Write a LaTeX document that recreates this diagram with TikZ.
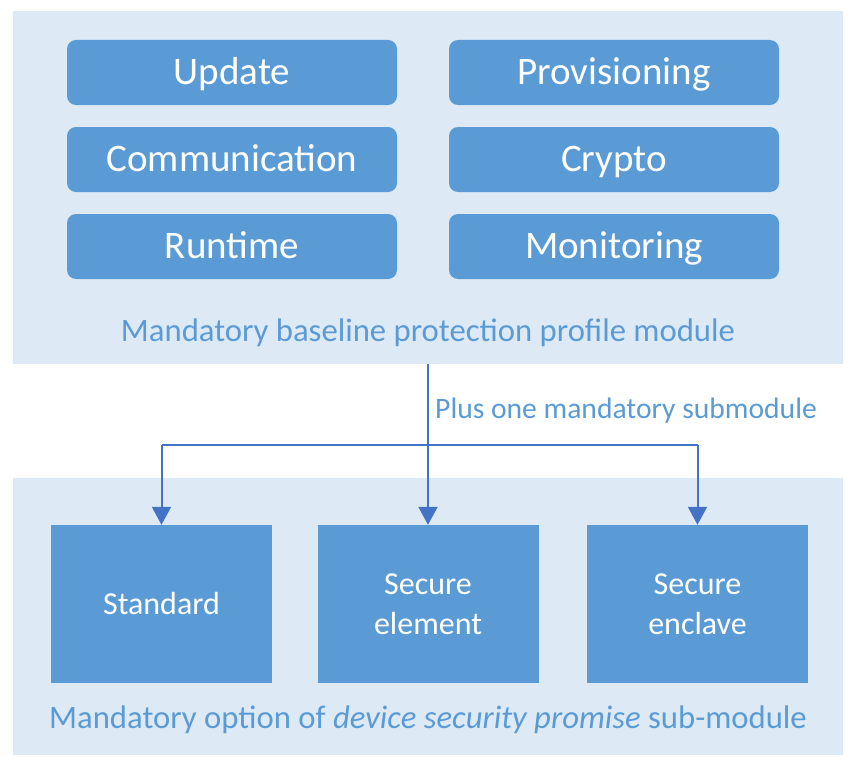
\documentclass[tikz,border=0pt]{standalone}
\usepackage{fontspec}
\setmainfont{Carlito}
\usetikzlibrary{arrows.meta}
\definecolor{panelbg}{HTML}{DDEAF6}
\definecolor{boxfill}{HTML}{5B9BD5}
\definecolor{labelcol}{HTML}{5B9BD5}
\definecolor{arrowcol}{HTML}{4472C4}
\tikzset{
  panel/.style={fill=panelbg, draw=none},
  topbox/.style={fill=boxfill, draw=none, rounded corners=9pt, minimum width=330pt, minimum height=65pt, text=white, font=\fontsize{39}{42}\selectfont, inner sep=0pt, text height=30pt, text depth=6pt},
  subbox/.style={fill=boxfill, draw=none, minimum width=221pt, minimum height=158pt, text=white, font=\fontsize{32}{40}\selectfont, align=center, inner sep=0pt},
  paneltext/.style={text=labelcol, font=\fontsize{32.7}{36}\selectfont, inner sep=0pt},
  conn/.style={draw=arrowcol, line width=2pt},
  arr/.style={conn, -{Triangle[width=19pt,length=18pt]}}
}
\begin{document}
\begin{tikzpicture}[x=1pt,y=-1pt]
\useasboundingbox (0,0) rectangle (857,768);
\fill[white] (0,0) rectangle (857,768);
% panels
\node[panel, minimum width=830pt, minimum height=353pt, inner sep=0pt] (toppanel) at (428,187.5) {};
\node[panel, minimum width=830pt, minimum height=277pt, inner sep=0pt] (botpanel) at (428,616.5) {};
% top boxes
\node[topbox] (update) at (232,72.5) {Update};
\node[topbox] (prov) at (614,72.5) {Provisioning};
\node[topbox] (comm) at (232,159.5) {Communication};
\node[topbox] (crypto) at (614,159.5) {Crypto};
\node[topbox] (runtime) at (232,246.5) {Runtime};
\node[topbox] (monitor) at (614,246.5) {Monitoring};
\node[paneltext] (toplabel) at (428,333) {Mandatory baseline protection profile module};
% bottom boxes
\node[subbox] (standard) at (161.5,604) {Standard};
\node[subbox] (selement) at (428,604) {Secure\\element};
\node[subbox] (senclave) at (697.5,604) {Secure\\enclave};
\node[paneltext] (botlabel) at (428,720) {Mandatory option of \textit{device security promise} sub-module};
% connectors
\coordinate (src) at (428,364);
\coordinate (hl) at (161.5,445);
\coordinate (hr) at (697.5,445);
\draw[arr] (src) -- (selement.north);
\draw[conn] (hl) -- (hr);
\draw[arr] (hl) -- (standard.north);
\draw[arr] (hr) -- (senclave.north);
\node[text=labelcol, font=\fontsize{29.6}{32}\selectfont, anchor=west, inner sep=0pt] (plus) at (435,411) {Plus one mandatory submodule};
\end{tikzpicture}
\end{document}
